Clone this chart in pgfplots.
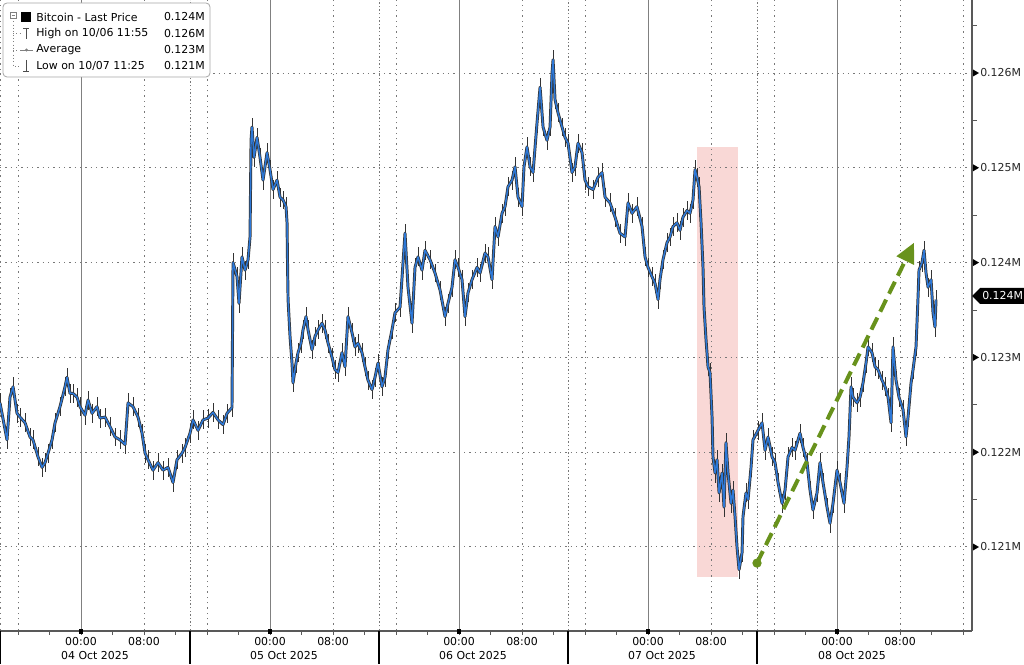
\documentclass[border=0pt]{standalone}
\usepackage{fontspec}
\setmainfont{DejaVu Sans}
\usepackage{pgfplots}
\pgfplotsset{compat=1.18}
\usepackage{pgfplotstable}
\usetikzlibrary{arrows.meta}
\definecolor{bblue}{RGB}{45,120,215}
\definecolor{pinkbox}{RGB}{249,216,214}
\definecolor{arrowgreen}{RGB}{104,146,28}
\definecolor{gridgray}{RGB}{120,120,120}
\newcommand\lf{\fontsize{8.2}{9.8}\selectfont}

\pgfplotstableread{
t v
-10.29 122.52
-9.40 122.13
-9.02 122.58
-8.63 122.69
-8.13 122.41
-7.75 122.37
-7.11 122.31
-6.48 122.16
-6.10 122.13
-5.46 121.95
-4.95 121.84
-4.57 121.89
-4.19 121.99
-3.68 122.13
-3.30 122.31
-2.67 122.48
-2.03 122.69
-1.78 122.79
-1.40 122.62
-1.02 122.62
-0.51 122.58
-0.13 122.48
0.51 122.39
0.89 122.55
1.40 122.41
2.03 122.48
2.41 122.36
3.05 122.37
3.68 122.27
4.32 122.16
4.95 122.13
5.59 122.08
5.97 122.52
6.60 122.48
7.24 122.37
7.75 122.20
8.13 121.99
8.51 121.92
9.14 121.81
9.78 121.89
10.41 121.81
11.05 121.84
11.68 121.68
12.19 121.92
12.83 121.99
13.21 122.05
13.84 122.20
14.22 122.34
14.86 122.23
15.49 122.34
16.13 122.36
16.76 122.42
17.40 122.34
18.03 122.29
18.54 122.41
19.17 122.47
19.30 124.00
19.81 123.85
20.06 123.57
20.44 124.06
20.83 123.92
21.21 124.03
21.46 124.27
21.59 125.29
21.71 125.43
21.97 125.11
22.35 125.32
22.73 125.11
23.11 124.87
23.62 125.16
24.00 124.98
24.38 124.77
24.89 124.87
25.27 124.69
25.65 124.66
26.03 124.59
26.16 124.42
26.22 124.00
26.29 123.61
26.54 123.22
26.79 122.94
26.92 122.73
27.30 122.94
27.56 123.05
27.94 123.15
28.19 123.29
28.57 123.43
28.83 123.29
29.33 123.08
29.71 123.22
30.10 123.29
30.60 123.36
30.98 123.29
31.37 123.15
31.87 123.00
32.25 122.87
32.63 122.84
33.14 123.05
33.52 122.90
33.90 123.43
34.41 123.26
34.79 123.11
35.17 123.15
35.68 123.05
36.06 122.90
36.44 122.76
36.95 122.66
37.33 122.79
37.71 122.94
38.22 122.69
38.60 122.79
38.98 123.08
39.49 123.29
39.87 123.47
40.51 123.53
41.14 124.31
41.52 123.74
42.03 123.36
42.41 123.95
42.79 124.06
43.30 123.92
43.68 124.13
44.32 124.03
44.95 123.89
45.59 123.71
46.22 123.43
46.60 123.57
47.11 123.74
47.49 124.03
47.87 123.95
48.38 123.82
48.76 123.43
49.14 123.68
49.65 123.82
50.29 123.95
50.67 123.89
51.30 124.10
51.68 124.06
52.19 123.82
52.57 124.38
52.95 124.27
53.46 124.52
53.84 124.59
54.22 124.80
54.73 124.87
55.11 125.01
55.49 124.69
56.00 124.59
56.25 125.01
56.63 125.22
57.02 125.01
57.40 124.95
57.90 125.47
58.29 125.85
58.67 125.43
59.17 125.29
59.56 125.43
59.81 126.00
59.94 126.14
60.19 125.72
60.57 125.58
61.08 125.43
61.46 125.32
61.84 125.26
62.35 124.95
62.73 125.01
63.11 125.26
63.62 125.16
64.00 124.87
64.38 124.80
65.02 124.77
65.65 124.90
66.16 124.95
66.54 124.69
67.17 124.63
67.81 124.48
68.44 124.31
69.08 124.27
69.46 124.63
69.97 124.52
70.60 124.59
71.24 124.38
71.62 124.06
72.00 123.95
72.51 123.85
72.89 123.78
73.27 123.61
73.52 123.82
73.90 124.03
74.41 124.21
74.79 124.27
75.17 124.38
75.68 124.42
76.06 124.34
76.44 124.48
76.95 124.55
77.33 124.52
77.71 124.66
77.97 124.98
78.22 124.90
78.48 124.80
78.73 124.42
78.98 123.95
79.11 123.53
79.37 123.18
79.62 122.90
79.87 122.84
80.13 122.37
80.25 121.95
80.51 121.78
80.76 121.92
81.02 121.57
81.40 121.78
81.65 121.42
81.90 122.10
82.16 121.78
82.54 121.46
82.79 121.60
83.05 121.32
83.30 121.00
83.56 120.76
83.94 120.94
84.06 121.32
84.44 121.57
84.70 121.50
85.08 121.84
85.33 122.13
85.97 122.23
86.48 122.31
86.86 122.02
87.24 122.16
87.75 121.95
88.13 121.89
88.51 121.68
89.02 121.46
89.40 121.60
89.78 121.95
90.29 122.05
90.67 122.02
91.30 122.20
91.68 122.05
92.19 121.89
92.57 121.60
92.95 121.39
93.46 121.57
93.84 121.89
94.22 121.68
94.73 121.42
95.11 121.25
95.49 121.46
96.00 121.81
96.38 121.68
96.89 121.46
97.27 121.84
97.52 122.16
97.78 122.69
98.03 122.58
98.54 122.52
98.92 122.58
99.30 122.73
99.68 122.94
99.94 123.11
100.44 123.05
100.83 122.90
101.21 122.87
101.71 122.76
102.10 122.69
102.48 122.58
102.86 122.31
103.11 123.11
103.49 122.76
103.87 122.58
104.38 122.45
104.76 122.16
105.02 122.37
105.40 122.73
105.65 122.87
106.03 123.11
106.29 123.64
106.41 123.92
106.79 124.00
107.05 124.13
107.30 123.89
107.56 123.74
107.94 123.82
108.19 123.47
108.44 123.32
108.57 123.61
}\price

\begin{document}
\begin{tikzpicture}[every node/.style={font=\lf}]
\begin{axis}[width=729pt,height=472.5pt,scale only axis,
  xmin=-10.29,xmax=113.14,ymin=120.124,ymax=126.77,
  axis lines=none, clip=true]
\fill[pinkbox] (axis cs:78.22,120.68) rectangle (axis cs:83.43,125.22);
\pgfplotsinvokeforeach{121,122,123,124,125,126}{
  \draw[gridgray, dash pattern=on 0.9pt off 3.1pt, line width=0.7pt] (axis cs:-10.29,#1) -- (axis cs:113.14,#1);}
\pgfplotsinvokeforeach{-10.25,-8,8,16,32,40,56,64,80,88,104,112}{
  \draw[gridgray, dash pattern=on 0.9pt off 3.1pt, line width=0.7pt] (axis cs:#1,120.124) -- (axis cs:#1,126.77);}
\pgfplotsinvokeforeach{13.84,37.84,61.84,85.84}{
  \draw[gridgray, dash pattern=on 1.1pt off 1.6pt, line width=0.6pt] (axis cs:#1,120.124) -- (axis cs:#1,126.77);}
\pgfplotsinvokeforeach{0,24,48,72,96}{
  \draw[gray, line width=0.7pt] (axis cs:#1,120.124) -- (axis cs:#1,126.77);}
\addplot[forget plot, draw=none, mark=none,
  error bars/.cd, y dir=both, y fixed=0.1, error mark=none,
  error bar style={draw=black!80, line width=0.6pt, solid}] table[x=t,y=v]{\price};
\addplot[forget plot, black!80, line width=2.2pt, mark=none, line join=round] table[x=t,y=v]{\price};
\addplot[bblue, line width=1.1pt, mark=none, line join=round] table[x=t,y=v]{\price};
\draw[arrowgreen, line width=3pt, dash pattern=on 10pt off 5pt,
  -{Triangle[length=15pt,width=14pt]}] (axis cs:85.84,120.83) -- (axis cs:105.78,124.21);
\fill[arrowgreen] (axis cs:85.84,120.83) circle[radius=3.5pt];
\end{axis}

\begin{scope}[x=0.75pt,y=-0.75pt,shift={(0pt,472.5pt)}]
\draw[gray!70!black, line width=0.8pt] (972,0) -- (972,631);
\draw[gray!70!black, line width=0.8pt] (0,631) -- (972,631);
\foreach \x in {0.5,190,379,568,757} \draw[black, line width=0.8pt] (\x,631) -- (\x,664);
\foreach \k in {-2,...,28} \draw[gray!70!black, line width=0.6pt] ({81+31.5*\k},631) -- ({81+31.5*\k},635);
\foreach \x in {81,270,459,648,837} \fill[black] (\x-2,629) rectangle (\x+2,634);
\foreach \x in {81,270,459,648,837} \node at (\x,642) {00:00};
\foreach \x in {144,333,522,711,900} \node at (\x,642) {08:00};
\node at (95,656) {04 Oct 2025};
\node at (284,656) {05 Oct 2025};
\node at (473,656) {06 Oct 2025};
\node at (662,656) {07 Oct 2025};
\node at (852,656) {08 Oct 2025};
\foreach \p/\l in {547/0.121M,452.2/0.122M,357.4/0.123M,262.6/0.124M,167.8/0.125M,73/0.126M}{
  \fill[black] (973,\p-3.5) -- (979,\p) -- (973,\p+3.5) -- cycle;
  \node[anchor=west, inner sep=0pt, text=black!85] at (980,\p) {\l};}
\foreach \p in {499.6,404.8,310,215.2,120.4,25.6} \draw[gray!70!black, line width=0.6pt] (972,\p) -- (977,\p);
\fill[black] (972,296) -- (980,288) -- (1024,288) -- (1024,304) -- (980,304) -- cycle;
\node[white, anchor=west, inner sep=0pt] at (982,296) {0.124M};
% legend
\draw[gray!70, line width=0.6pt, fill=white, rounded corners=3pt] (3,3) rectangle (210,77);
\draw[gray, line width=0.5pt] (10,12) rectangle (16,18);
\draw[gray, line width=0.5pt] (11.5,15) -- (14.5,15);
\draw[gray, dotted, line width=0.5pt] (13,18) -- (13,66) -- (20,66);
\draw[gray, dotted, line width=0.5pt] (13,33.5) -- (20,33.5);
\draw[gray, dotted, line width=0.5pt] (13,50) -- (19,50);
\fill[black] (21,12) rectangle (31,22);
\draw[gray!60!black, line width=0.6pt] (23,28) -- (29,28) (26,28) -- (26,39);
\draw[gray, line width=0.6pt] (20,50) -- (33,50);
\fill[gray] (26.5,50) circle (1.6);
\draw[gray!60!black, line width=0.6pt] (26,60) -- (26,71) (23,71) -- (29,71);
\node[anchor=west, inner sep=0pt] at (36,17) {Bitcoin - Last Price};
\node[anchor=west, inner sep=0pt] at (36,33.5) {High on 10/06 11:55};
\node[anchor=west, inner sep=0pt] at (36,50) {Average};
\node[anchor=west, inner sep=0pt] at (36,66) {Low on 10/07 11:25};
\node[anchor=east, inner sep=0pt] at (205,17) {0.124M};
\node[anchor=east, inner sep=0pt] at (205,33.5) {0.126M};
\node[anchor=east, inner sep=0pt] at (205,50) {0.123M};
\node[anchor=east, inner sep=0pt] at (205,66) {0.121M};
\end{scope}
\pgfresetboundingbox
\path[use as bounding box] (0pt,-25.5pt) rectangle (768pt,472.5pt);
\end{tikzpicture}
\end{document}
